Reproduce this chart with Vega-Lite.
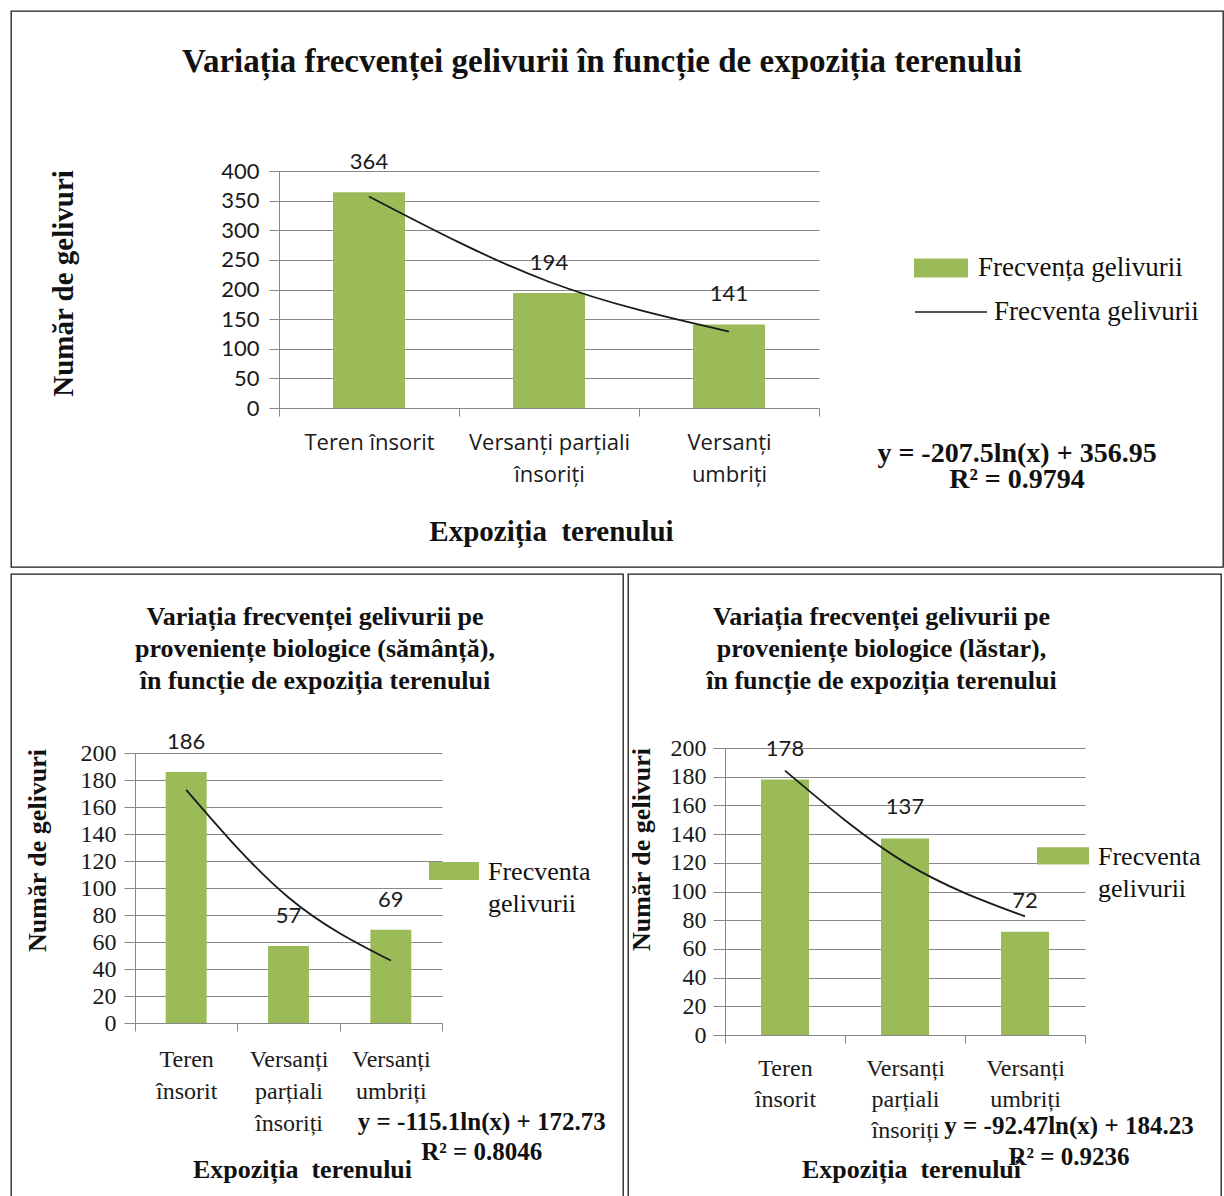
{
  "$schema": "https://vega.github.io/schema/vega-lite/v6.json",
  "background": "white",
  "padding": {"left": 10, "top": 10, "right": 0, "bottom": 0},
  "spacing": 5,
  "resolve": {"scale": {"fill": "independent", "stroke": "independent"}, "legend": {"fill": "independent", "stroke": "independent"}},
  "datasets": {
    "expozitie": [
      {"expozitie": "Teren însorit", "total": 364, "trend_total": 356.95, "samanta": 186, "trend_samanta": 172.73, "lastar": 178, "trend_lastar": 184.23},
      {"expozitie": "Versanți parțiali însoriți", "total": 194, "trend_total": 213.12, "samanta": 57, "trend_samanta": 92.95, "lastar": 137, "trend_lastar": 120.13},
      {"expozitie": "Versanți umbriți", "total": 141, "trend_total": 128.99, "samanta": 69, "trend_samanta": 46.28, "lastar": 72, "trend_lastar": 82.64}
    ]
  },
  "config": {
    "title": {"font": "Liberation Serif", "fontWeight": "bold", "color": "#111111", "anchor": "middle", "frame": "group"},
    "legend": {"padding": 0, "labelFont": "Liberation Serif", "labelColor": "#111111", "labelLimit": 400, "title": null},
    "axis": {"domainColor": "#878787", "tickColor": "#878787", "gridColor": "#878787", "labelColor": "#1a1a1a", "titleColor": "#111111", "titleFont": "Liberation Serif", "titleFontWeight": "bold"},
    "style": {"guide-label": {"lineHeight": 32}},
    "text": {"color": "#1a1a1a"}
  },
  "vconcat": [
    {
      "width": 1212,
      "height": 556,
      "view": {"stroke": "#1a1a1a", "strokeWidth": 1.3, "fill": "white"},
      "title": {"text": "Variația frecvenței gelivurii în funcție de expoziția terenului", "fontSize": 33, "offset": -68, "dx": -15},
      "data": {"name": "expozitie"},
      "encoding": {
        "x": {
          "field": "expozitie", "type": "nominal",
          "scale": {"domain": ["Teren însorit", "Versanți parțiali însoriți", "Versanți umbriți"], "range": [268, 808], "paddingInner": 0, "paddingOuter": 0},
          "axis": {
            "title": "Expoziția\u00a0 terenului", "offset": -159, "tickBand": "extent", "tickSize": 8, "grid": false,
            "labelFont": "Open Sans", "labelFontSize": 22, "labelAngle": 0, "labelPadding": 16, "labelLineHeight": 32, "labelLimit": 300,
            "labelExpr": "datum.label == 'Versanți parțiali însoriți' ? ['Versanți parțiali', 'însoriți'] : datum.label == 'Versanți umbriți' ? ['Versanți', 'umbriți'] : datum.label",
            "titleFontSize": 29, "titleX": 540, "titleY": 123, "titleAlign": "center", "titleBaseline": "middle"
          }
        }
      },
      "layer": [
        {
          "mark": {"type": "bar", "width": {"band": 0.4}},
          "encoding": {
            "y": {
              "field": "total", "type": "quantitative",
              "scale": {"domain": [0, 400], "range": [397, 160], "nice": false},
              "axis": {
                "title": "Număr de gelivuri", "offset": -268, "values": [0, 50, 100, 150, 200, 250, 300, 350, 400],
                "grid": true, "tickSize": 10, "labelPadding": 10, "labelFont": "Lato", "labelFontSize": 22,
                "titleFontSize": 29, "titleX": -216, "titleY": 272, "titleAngle": -90, "titleAlign": "center", "titleBaseline": "middle"
              }
            },
            "fill": {
              "datum": "Frecvența gelivurii", "type": "nominal",
              "scale": {"range": ["#9BBB59"]},
              "legend": {"orient": "none", "legendX": 903, "legendY": 230, "symbolType": "M-1,-0.35H1V0.35H-1Z", "symbolSize": 2916, "symbolStrokeWidth": 0, "symbolOpacity": 1, "labelFontSize": 27, "labelOffset": 10}
            }
          }
        },
        {
          "mark": {"type": "line", "interpolate": "monotone", "strokeWidth": 1.8},
          "encoding": {
            "y": {"field": "trend_total", "type": "quantitative"},
            "stroke": {
              "datum": "Frecventa gelivurii", "type": "nominal",
              "scale": {"range": ["#1a1a1a"]},
              "legend": {"orient": "none", "legendX": 903, "legendY": 264, "symbolType": "stroke", "symbolSize": 5184, "symbolStrokeWidth": 1.6, "labelFontSize": 27, "labelOffset": 6}
            }
          }
        },
        {
          "mark": {"type": "text", "font": "Lato", "fontSize": 22, "baseline": "middle", "dy": -30},
          "encoding": {
            "y": {"field": "total", "type": "quantitative"},
            "text": {"field": "total", "type": "quantitative"}
          }
        },
        {
          "data": {"values": [{"ecuatie": "y = -207.5ln(x) + 356.95\nR² = 0.9794"}]},
          "mark": {"type": "text", "font": "Liberation Serif", "fontWeight": "bold", "fontSize": 28, "align": "center", "baseline": "top", "lineBreak": "\n", "lineHeight": 26, "dx": 288, "dy": 32, "color": "#111111"},
          "encoding": {
            "x": {"datum": "Versanți umbriți", "type": "nominal"},
            "y": {"datum": 0, "type": "quantitative"},
            "text": {"field": "ecuatie"}
          }
        }
      ]
    },
    {
      "spacing": 3,
      "resolve": {"scale": {"fill": "independent", "stroke": "independent"}, "legend": {"fill": "independent", "stroke": "independent"}},
      "hconcat": [
        {
          "width": 612,
          "height": 625,
          "view": {"stroke": "#1a1a1a", "strokeWidth": 1.3, "fill": "white"},
          "title": {"text": ["Variația frecvenței gelivurii pe", "proveniențe biologice (sămânță),", "în funcție de expoziția terenului"], "fontSize": 26, "lineHeight": 32, "offset": -120, "dx": -2},
          "data": {"name": "expozitie"},
          "encoding": {
            "x": {
              "field": "expozitie", "type": "nominal",
              "scale": {"domain": ["Teren însorit", "Versanți parțiali însoriți", "Versanți umbriți"], "range": [124, 431], "paddingInner": 0, "paddingOuter": 0},
              "axis": {
                "title": "Expoziția\u00a0 terenului", "offset": -176, "tickBand": "extent", "tickSize": 8, "grid": false,
                "labelFont": "Liberation Serif", "labelFontSize": 24, "labelAngle": 0, "labelPadding": 16, "labelLineHeight": 32,
                "labelExpr": "split(datum.label, ' ')",
                "titleFontSize": 26, "titleX": 291, "titleY": 146, "titleAlign": "center", "titleBaseline": "middle"
              }
            }
          },
          "layer": [
            {
              "mark": {"type": "bar", "width": {"band": 0.4}},
              "encoding": {
                "y": {
                  "field": "samanta", "type": "quantitative",
                  "scale": {"domain": [0, 200], "range": [449, 179], "nice": false},
                  "axis": {
                    "title": "Număr de gelivuri", "offset": -124, "values": [0, 20, 40, 60, 80, 100, 120, 140, 160, 180, 200],
                    "grid": true, "tickSize": 11, "labelPadding": 8, "labelFont": "Liberation Serif", "labelFontSize": 24,
                    "titleFontSize": 26, "titleX": -98, "titleY": 276, "titleAngle": -90, "titleAlign": "center", "titleBaseline": "middle"
                  }
                },
                "fill": {
                  "datum": "Frecventa gelivurii", "type": "nominal",
                  "scale": {"range": ["#9BBB59"]},
                  "legend": {"orient": "none", "legendX": 418, "legendY": 281, "symbolType": "M-1,-0.72H1V0H-1Z", "symbolSize": 2500, "symbolStrokeWidth": 0, "symbolOpacity": 1, "labelFontSize": 26, "labelOffset": 9, "labelBaseline": "alphabetic", "labelExpr": "split(datum.label, ' ')"}
                }
              }
            },
            {
              "mark": {"type": "line", "interpolate": "monotone", "strokeWidth": 1.8, "color": "#1a1a1a"},
              "encoding": {
                "y": {"field": "trend_samanta", "type": "quantitative"}
              }
            },
            {
              "mark": {"type": "text", "font": "Lato", "fontSize": 22, "baseline": "middle", "dy": -30},
              "encoding": {
                "y": {"field": "samanta", "type": "quantitative"},
                "text": {"field": "samanta", "type": "quantitative"}
              }
            },
            {
              "data": {"values": [{"ecuatie": "y = -115.1ln(x) + 172.73\nR² = 0.8046"}]},
              "mark": {"type": "text", "font": "Liberation Serif", "fontWeight": "bold", "fontSize": 25, "align": "center", "baseline": "top", "lineBreak": "\n", "lineHeight": 30, "dx": 91, "dy": 87, "color": "#111111"},
              "encoding": {
                "x": {"datum": "Versanți umbriți", "type": "nominal"},
                "y": {"datum": 0, "type": "quantitative"},
                "text": {"field": "ecuatie"}
              }
            }
          ]
        },
        {
          "width": 593,
          "height": 625,
          "view": {"stroke": "#1a1a1a", "strokeWidth": 1.3, "fill": "white"},
          "title": {"text": ["Variația frecvenței gelivurii pe", "proveniențe biologice (lăstar),", "în funcție de expoziția terenului"], "fontSize": 26, "lineHeight": 32, "offset": -120, "dx": -43},
          "data": {"name": "expozitie"},
          "encoding": {
            "x": {
              "field": "expozitie", "type": "nominal",
              "scale": {"domain": ["Teren însorit", "Versanți parțiali însoriți", "Versanți umbriți"], "range": [97, 457], "paddingInner": 0, "paddingOuter": 0},
              "axis": {
                "title": "Expoziția\u00a0 terenului", "offset": -164, "tickBand": "extent", "tickSize": 8, "grid": false,
                "labelFont": "Liberation Serif", "labelFontSize": 24, "labelAngle": 0, "labelPadding": 13, "labelLineHeight": 31,
                "labelExpr": "split(datum.label, ' ')",
                "titleFontSize": 26, "titleX": 283, "titleY": 134, "titleAlign": "center", "titleBaseline": "middle"
              }
            }
          },
          "layer": [
            {
              "mark": {"type": "bar", "width": {"band": 0.4}},
              "encoding": {
                "y": {
                  "field": "lastar", "type": "quantitative",
                  "scale": {"domain": [0, 200], "range": [461, 174], "nice": false},
                  "axis": {
                    "title": "Număr de gelivuri", "offset": -97, "values": [0, 20, 40, 60, 80, 100, 120, 140, 160, 180, 200],
                    "grid": true, "tickSize": 12, "labelPadding": 7, "labelFont": "Liberation Serif", "labelFontSize": 24,
                    "titleFontSize": 26, "titleX": -84, "titleY": 275, "titleAngle": -90, "titleAlign": "center", "titleBaseline": "middle"
                  }
                },
                "fill": {
                  "datum": "Frecventa gelivurii", "type": "nominal",
                  "scale": {"range": ["#9BBB59"]},
                  "legend": {"orient": "none", "legendX": 409, "legendY": 265, "symbolType": "M-1,-0.68H1V-0.02H-1Z", "symbolSize": 2704, "symbolStrokeWidth": 0, "symbolOpacity": 1, "labelFontSize": 26, "labelOffset": 9, "labelBaseline": "alphabetic", "labelExpr": "split(datum.label, ' ')"}
                }
              }
            },
            {
              "mark": {"type": "line", "interpolate": "monotone", "strokeWidth": 1.8, "color": "#1a1a1a"},
              "encoding": {
                "y": {"field": "trend_lastar", "type": "quantitative"}
              }
            },
            {
              "mark": {"type": "text", "font": "Lato", "fontSize": 22, "baseline": "middle", "dy": -31},
              "encoding": {
                "y": {"field": "lastar", "type": "quantitative"},
                "text": {"field": "lastar", "type": "quantitative"}
              }
            },
            {
              "data": {"values": [{"ecuatie": "y = -92.47ln(x) + 184.23\nR² = 0.9236"}]},
              "mark": {"type": "text", "font": "Liberation Serif", "fontWeight": "bold", "fontSize": 25, "align": "center", "baseline": "top", "lineBreak": "\n", "lineHeight": 31, "dx": 44, "dy": 79, "color": "#111111"},
              "encoding": {
                "x": {"datum": "Versanți umbriți", "type": "nominal"},
                "y": {"datum": 0, "type": "quantitative"},
                "text": {"field": "ecuatie"}
              }
            }
          ]
        }
      ]
    }
  ]
}
